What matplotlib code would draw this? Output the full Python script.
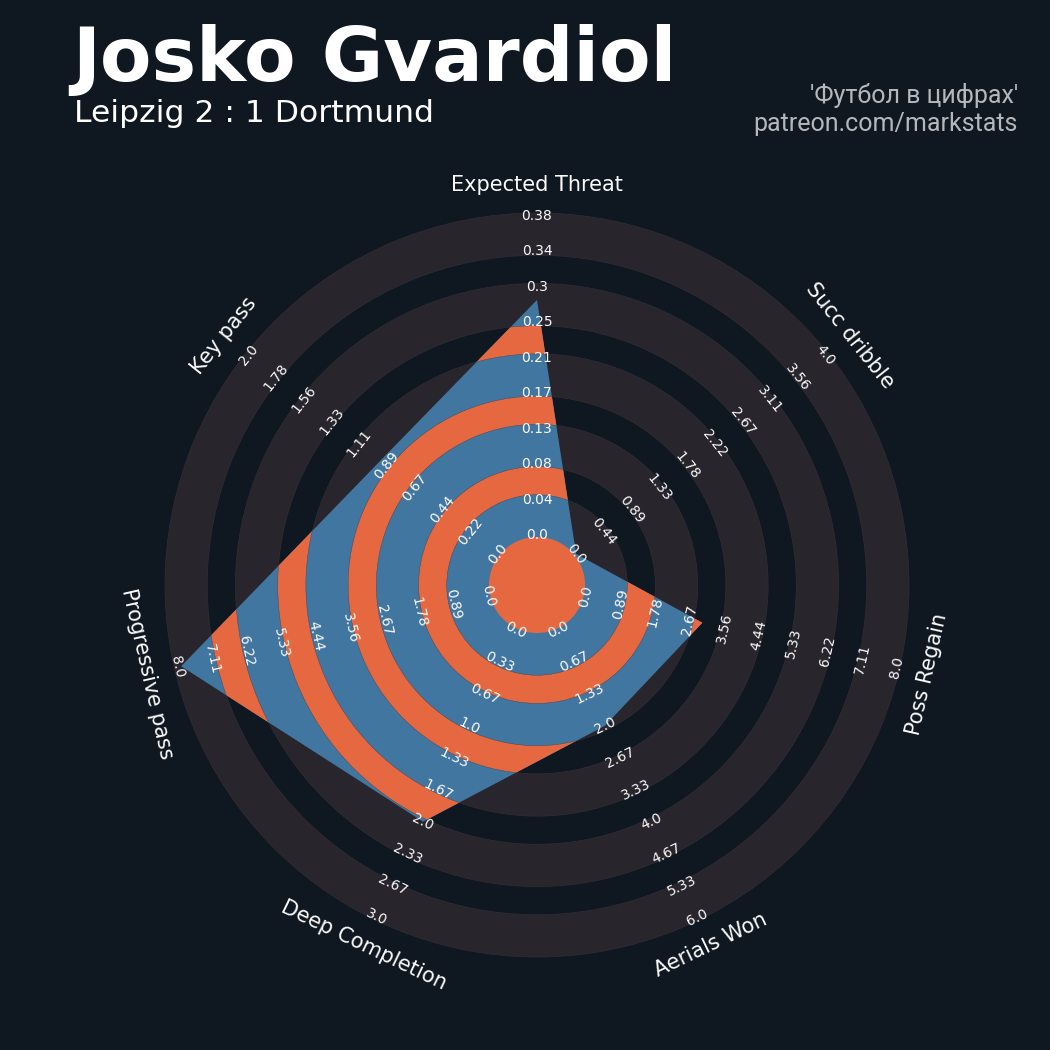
import numpy as np
import matplotlib
matplotlib.use("Agg")
import matplotlib.pyplot as plt
from matplotlib.patches import Wedge, Circle, Polygon

# данные
params = ["Expected Threat", "Succ dribble", "Poss Regain", "Aerials Won",
          "Deep Completion", "Progressive pass", "Key pass"]
low = [0, 0, 0, 0, 0, 0, 0]
high = [0.38, 4.0, 8.0, 6.0, 3.0, 8.0, 2.0]
values = [0.28, 0.0, 3.0, 2.0, 2.0, 7.9, 0.94]

title = "Josko Gvardiol"
subtitle = "Leipzig 2 : 1 Dortmund"
credit = ["'Футбол в цифрах'", "patreon.com/markstats"]

# цвета
bg = "#0f1720"
ring_grey = "#28252c"
ring_edge = "#302d35"
blue = "#4176a0"
orange = "#e66841"

# геометрия (в пикселях, центр радара = 0,0)
cx, cy = 537, 585
center_r = 48
outer_r = 372
n_labels = 10
gap_w = (outer_r - center_r) / 11.5
band_w = 1.5 * gap_w

fig = plt.figure(figsize=(10.5, 10.5), dpi=100, facecolor=bg)
ax = fig.add_axes([0, 0, 1, 1])
ax.set_xlim(-cx, 1050 - cx)
ax.set_ylim(-(1050 - cy), cy)
ax.set_aspect("equal")
ax.axis("off")
ax.set_facecolor(bg)

# серые кольца на фоне
band_starts = [center_r + i * (band_w + gap_w) for i in range(5)]
for s in band_starts:
    ax.add_patch(Wedge((0, 0), s + band_w, 0, 360, width=band_w,
                       facecolor=ring_grey, edgecolor=ring_edge, lw=0.5, zorder=1))

# радар
n = len(params)
angles = np.deg2rad(90 - np.arange(n) * 360 / n)
lab_r0, lab_r1 = 50, 369
frac = (np.array(values) - np.array(low)) / (np.array(high) - np.array(low))
radii = lab_r0 + frac * (lab_r1 - lab_r0)
verts = np.column_stack([radii * np.cos(angles), radii * np.sin(angles)])
poly = Polygon(verts, closed=True, facecolor=blue, edgecolor="none", zorder=2)
ax.add_patch(poly)

# оранжевые кольца внутри радара
center = Circle((0, 0), center_r, facecolor=orange, edgecolor="none", zorder=3)
ax.add_patch(center)
center.set_clip_path(poly)
for s in band_starts[:-1]:
    w = Wedge((0, 0), s + band_w + gap_w, 0, 360, width=gap_w,
              facecolor=orange, edgecolor="#3a4656", lw=0.3, zorder=3)
    ax.add_patch(w)
    w.set_clip_path(poly)

# подписи колец и параметров
lab_radii = np.linspace(lab_r0, lab_r1, n_labels)
for i, p in enumerate(params):
    a = angles[i]
    deg = np.rad2deg(a)
    rot = deg - 90
    rot = (rot + 180) % 360 - 180
    if rot > 90 or rot < -90:
        rot += 180
    rot = (rot + 180) % 360 - 180
    ticks = np.linspace(low[i], high[i], n_labels)
    for r, v in zip(lab_radii, ticks):
        ax.text(r * np.cos(a), r * np.sin(a), f"{round(float(v), 2)}",
                rotation=rot, rotation_mode="anchor", ha="center", va="center",
                fontsize=10, color="#fafafa", zorder=5)
    ax.text(400 * np.cos(a), 400 * np.sin(a), p, rotation=rot,
            rotation_mode="anchor", ha="center", va="center",
            fontsize=15, color="#fafafa", zorder=5)

# заголовки
fig.text(72 / 1050, 1 - 81 / 1050, title, fontsize=54, fontweight="bold",
         color="white", ha="left", va="baseline")
fig.text(74 / 1050, 1 - 122 / 1050, subtitle, fontsize=22.6,
         color="white", ha="left", va="baseline")
fig.text(1018 / 1050, 1 - 103 / 1050, credit[0], fontsize=18, family="Roboto",
         color="#b4b8bc", ha="right", va="baseline")
fig.text(1018 / 1050, 1 - 131 / 1050, credit[1], fontsize=18, family="Roboto",
         color="#b4b8bc", ha="right", va="baseline")

fig.savefig("out.png", dpi=100, facecolor=bg)
